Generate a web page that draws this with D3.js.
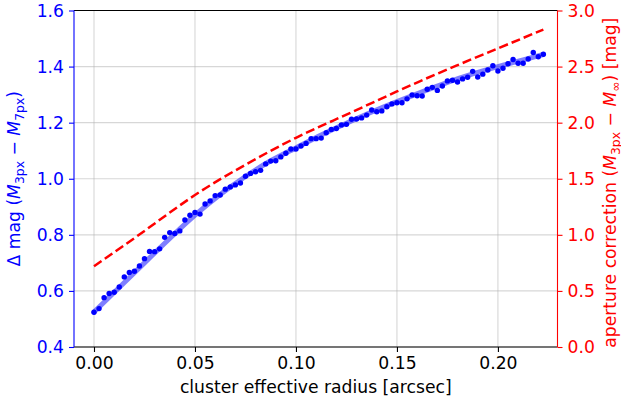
<!DOCTYPE html>
<html><head><meta charset="utf-8">
<script src="https://cdn.jsdelivr.net/npm/d3@7"></script>
<style>body{margin:0;background:#fff} svg{display:block} text{font-family:"DejaVu Sans",sans-serif}</style>
</head><body><svg id="c" width="621" height="403"></svg>
<script>
// ---- data ----
const radius = [0,0.0025,0.005,0.0075,0.01,0.0125,0.015,0.0175,0.02,0.0225,
0.025,0.0275,0.03,0.0325,0.035,0.0375,0.04,0.0425,0.045,0.0475,
0.05,0.0525,0.055,0.0575,0.06,0.0625,0.065,0.0675,0.07,0.0725,
0.075,0.0775,0.08,0.0825,0.085,0.0875,0.09,0.0925,0.095,0.0975,
0.1,0.1025,0.105,0.1075,0.11,0.1125,0.115,0.1175,0.12,0.1225,
0.125,0.1275,0.13,0.1325,0.135,0.1375,0.14,0.1425,0.145,0.1475,
0.15,0.1525,0.155,0.1575,0.16,0.1625,0.165,0.1675,0.17,0.1725,
0.175,0.1775,0.18,0.1825,0.185,0.1875,0.19,0.1925,0.195,0.1975,
0.2,0.2025,0.205,0.2075,0.21,0.2125,0.215,0.2175,0.22,0.2225];
const deltaMag = [0.524,0.537,0.576,0.591,0.595,0.614,0.650,0.666,0.670,0.689,
0.715,0.741,0.740,0.750,0.791,0.808,0.805,0.814,0.853,0.870,
0.880,0.874,0.910,0.921,0.940,0.942,0.963,0.971,0.978,0.985,
1.009,1.019,1.025,1.030,1.053,1.063,1.064,1.078,1.091,1.106,
1.106,1.117,1.126,1.143,1.143,1.145,1.164,1.176,1.179,1.192,
1.194,1.212,1.213,1.217,1.227,1.245,1.239,1.242,1.257,1.267,
1.271,1.271,1.285,1.299,1.296,1.295,1.319,1.326,1.315,1.331,
1.349,1.351,1.345,1.356,1.362,1.383,1.363,1.373,1.388,1.403,
1.384,1.394,1.410,1.425,1.412,1.412,1.427,1.450,1.435,1.444];
const fitRadius = [0,0.0125,0.025,0.0375,0.05,0.0625,0.075,0.0875,0.1,0.1125,0.125,0.1375,0.15,0.1625,0.175,0.1875,0.2,0.2125,0.2225];
const fitMag = [0.525,0.612,0.700,0.787,0.870,0.944,1.008,1.064,1.110,1.156,1.198,1.238,1.275,1.310,1.344,1.374,1.400,1.424,1.443];
const apRadius = [0,0.025,0.05,0.075,0.1,0.125,0.15,0.175,0.2,0.2225];
const apCorr = [0.72,1.035,1.355,1.625,1.865,2.072,2.278,2.475,2.662,2.83];
const xTicks = [0,0.05,0.1,0.15,0.2];
const yLeftTicks = [0.4,0.6,0.8,1.0,1.2,1.4,1.6];
const yRightTicks = [0,0.5,1.0,1.5,2.0,2.5,3.0];

// ---- layout ----
const L = 74, R = 557.5, T = 10.5, B = 347;
const FS = 17.2;
const svg = d3.select('#c');
const x = d3.scaleLinear().domain([-0.0099, 0.2295]).range([L, R]);
const yL = d3.scaleLinear().domain([0.4, 1.6]).range([B, T]);
const yR = d3.scaleLinear().domain([0, 3]).range([B, T]);

// grid
const g = svg.append('g');
g.selectAll('.gx').data(xTicks).join('line')
  .attr('x1', d => x(d)).attr('x2', d => x(d)).attr('y1', T).attr('y2', B)
  .attr('stroke', '#b0b0b0').attr('stroke-opacity', 0.5).attr('stroke-width', 1.1);
g.selectAll('.gy').data(yLeftTicks).join('line')
  .attr('y1', d => yL(d)).attr('y2', d => yL(d)).attr('x1', L).attr('x2', R)
  .attr('stroke', '#b0b0b0').attr('stroke-opacity', 0.5).attr('stroke-width', 1.1);

// fit line
svg.append('path').datum(fitRadius.map((r, i) => [r, fitMag[i]]))
  .attr('d', d3.line().x(d => x(d[0])).y(d => yL(d[1])).curve(d3.curveNatural))
  .attr('fill', 'none').attr('stroke', 'blue').attr('stroke-opacity', 0.5)
  .attr('stroke-width', 5).attr('stroke-linecap', 'round');

// points
svg.append('g').selectAll('circle').data(radius.map((r, i) => [r, deltaMag[i]])).join('circle')
  .attr('cx', d => x(d[0])).attr('cy', d => yL(d[1])).attr('r', 2.7).attr('fill', 'blue');

// aperture correction (right axis)
svg.append('path').datum(apRadius.map((r, i) => [r, apCorr[i]]))
  .attr('d', d3.line().x(d => x(d[0])).y(d => yR(d[1])).curve(d3.curveNatural))
  .attr('fill', 'none').attr('stroke', 'red').attr('stroke-width', 2.5)
  .attr('stroke-dasharray', '9.2,4');

// spines
svg.append('line').attr('x1', L).attr('x2', R).attr('y1', T).attr('y2', T).attr('stroke', 'black').attr('stroke-width', 1.1);
svg.append('line').attr('x1', L).attr('x2', R).attr('y1', B).attr('y2', B).attr('stroke', 'black').attr('stroke-width', 1.1);
svg.append('line').attr('x1', L).attr('x2', L).attr('y1', T).attr('y2', B).attr('stroke', 'blue').attr('stroke-width', 1.1);
svg.append('line').attr('x1', R).attr('x2', R).attr('y1', T).attr('y2', B).attr('stroke', 'red').attr('stroke-width', 1.1);

// axes
const ax = svg.append('g').attr('transform', `translate(0,${B})`)
  .call(d3.axisBottom(x).tickValues(xTicks).tickFormat(d3.format('.2f')).tickSize(5).tickPadding(5));
const ayL = svg.append('g').attr('transform', `translate(${L},0)`)
  .call(d3.axisLeft(yL).tickValues(yLeftTicks).tickFormat(d3.format('.1f')).tickSize(5).tickPadding(5));
const ayR = svg.append('g').attr('transform', `translate(${R},0)`)
  .call(d3.axisRight(yR).tickValues(yRightTicks).tickFormat(d3.format('.1f')).tickSize(5).tickPadding(5));
[ax, ayL, ayR].forEach(a => { a.select('.domain').remove(); a.selectAll('text').attr('font-size', FS).attr('font-family', '"DejaVu Sans",sans-serif'); a.selectAll('line').attr('stroke-width', 1.1); });
ax.selectAll('line').attr('stroke', 'black'); ax.selectAll('text').attr('fill', 'black');
ayL.selectAll('line').attr('stroke', 'blue'); ayL.selectAll('text').attr('fill', 'blue');
ayR.selectAll('line').attr('stroke', 'red'); ayR.selectAll('text').attr('fill', 'red');

// labels
svg.append('text').attr('x', (L + R) / 2).attr('y', 393).attr('text-anchor', 'middle')
  .attr('font-size', FS).attr('fill', 'black').text('cluster effective radius [arcsec]');

function mathLabel(t, parts) {
  parts.forEach(p => {
    const s = t.append('tspan').text(p.t);
    if (p.i) s.attr('font-style', 'italic');
    if (p.sub) s.attr('font-size', FS * 0.72).attr('dy', 4);
    if (p.up) s.attr('dy', -4);
  });
}
const tl = svg.append('text').attr('transform', `translate(20,${(T + B) / 2}) rotate(-90)`)
  .attr('text-anchor', 'middle').attr('font-size', FS).attr('fill', 'blue');
mathLabel(tl, [{t: 'Δ mag ('}, {t: 'M', i: 1}, {t: '3px', sub: 1}, {t: ' − ', up: 1}, {t: 'M', i: 1}, {t: '7px', sub: 1}, {t: ')', up: 1}]);
const tr = svg.append('text').attr('transform', `translate(615.5,${(T + B) / 2 + 4}) rotate(-90)`)
  .attr('text-anchor', 'middle').attr('font-size', FS).attr('fill', 'red');
mathLabel(tr, [{t: 'aperture correction ('}, {t: 'M', i: 1}, {t: '3px', sub: 1}, {t: ' − ', up: 1}, {t: 'M', i: 1}, {t: '∞', sub: 1}, {t: ') [mag]', up: 1}]);
</script></body></html>
